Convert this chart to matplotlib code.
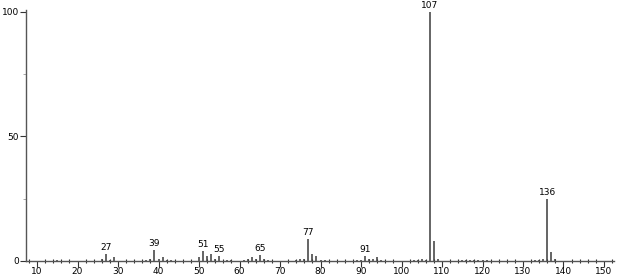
import matplotlib
matplotlib.use("Agg")
import matplotlib.pyplot as plt
from matplotlib.ticker import MultipleLocator, FixedLocator

mz = [15, 26, 27, 28, 29, 37, 38, 39, 40, 41, 42, 43,
      50, 51, 52, 53, 54, 55, 57, 58, 61, 62, 63, 64, 65, 66, 67,
      74, 75, 76, 77, 78, 79, 80, 81,
      89, 90, 91, 92, 93, 94, 95,
      103, 104, 105, 106, 107, 108, 109,
      115, 116, 117, 118, 119, 120, 121,
      133, 134, 135, 136, 137, 138]
intensity = [0.3, 1.0, 3.0, 0.5, 1.5, 0.5, 1.0, 4.5, 0.7, 1.5, 0.5, 0.5,
             1.5, 4.0, 2.0, 3.0, 1.0, 2.0, 0.4, 0.4, 0.5, 0.8, 1.5, 0.8, 2.5, 1.0, 0.5,
             0.5, 0.7, 0.8, 9.0, 3.0, 2.0, 0.5, 0.4,
             0.5, 0.4, 2.0, 0.8, 0.7, 1.5, 0.5,
             0.4, 0.5, 0.7, 0.5, 100.0, 8.0, 0.7,
             0.3, 0.4, 0.3, 0.4, 0.4, 0.4, 0.5,
             0.4, 0.5, 0.7, 25.0, 3.5, 1.0]
labeled = [27, 39, 51, 55, 65, 77, 91, 107, 136]
x_ticks = list(range(10, 151, 10))
y_ticks = [0, 50, 100]

fig = plt.figure(figsize=(6.18, 2.77), dpi=100)
ax = fig.add_axes([26/618, 16/277, 588/618, 251/277])

ax.vlines(mz, 0, intensity, colors="#3a3a3a", linewidth=1.1)
lookup = dict(zip(mz, intensity))
for m in labeled:
    ax.text(m, lookup[m] + 0.8, str(m), ha="center", va="bottom",
            fontsize=6.5, color="black")

ax.set_xlim(7.28, 152.47)
ax.set_ylim(0, 100.8)
for s in ["top", "right"]:
    ax.spines[s].set_visible(False)
for s in ["left", "bottom"]:
    ax.spines[s].set_color("#555555")
    ax.spines[s].set_linewidth(1.0)

ax.xaxis.set_major_locator(FixedLocator(x_ticks))
ax.xaxis.set_minor_locator(MultipleLocator(2))
ax.yaxis.set_major_locator(FixedLocator(y_ticks))
ax.yaxis.set_minor_locator(FixedLocator([25, 75]))
ax.tick_params(axis="x", which="major", direction="out", length=4, width=0.8,
               labelsize=6.5, pad=0.5, color="#333333")
ax.tick_params(axis="x", which="minor", direction="inout", length=3, width=0.8,
               color="#333333")
ax.tick_params(axis="y", which="major", direction="out", length=4, width=0.8,
               labelsize=6.5, pad=1, color="#333333")
ax.tick_params(axis="y", which="minor", direction="out", length=2, width=0.6,
               color="#999999")

fig.savefig("out.png", dpi=100)
